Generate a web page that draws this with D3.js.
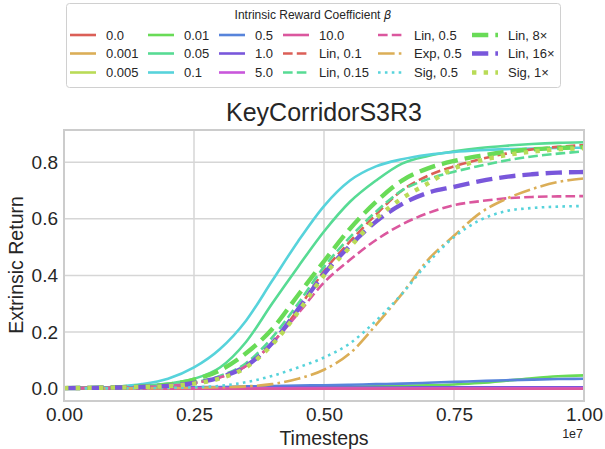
<!DOCTYPE html>
<html>
<head>
<meta charset="utf-8">
<script src="https://cdn.jsdelivr.net/npm/d3@7"></script>
<style>
  body { margin: 0; background: #fff; }
  text { font-family: "Liberation Sans", Arial, sans-serif; fill: #262626; }
</style>
</head>
<body>
<div id="container"></div>
<script>
// Timesteps (in units of 1e7), shared by every run
let steps = [0, 0.05, 0.1, 0.15, 0.2, 0.25, 0.3, 0.35, 0.4, 0.45, 0.5,
             0.55, 0.6, 0.65, 0.7, 0.75, 0.8, 0.85, 0.9, 0.95, 1.0];

// Extrinsic return per run
let b0_0   = [0.001,0.001,0.001,0.001,0.001,0.001,0.001,0.001,0.001,0.001,0.001,0.001,0.001,0.001,0.001,0.001,0.001,0.001,0.001,0.001,0.001];
let b0_001 = [0.001,0.001,0.001,0.001,0.001,0.001,0.001,0.001,0.001,0.001,0.001,0.001,0.001,0.001,0.001,0.001,0.001,0.001,0.001,0.001,0.001];
let b0_005 = [0.001,0.001,0.001,0.001,0.001,0.001,0.001,0.001,0.001,0.001,0.001,0.001,0.001,0.001,0.001,0.001,0.001,0.001,0.001,0.001,0.001];
let b0_01  = [0.002,0.002,0.002,0.003,0.003,0.003,0.004,0.004,0.005,0.005,0.006,0.007,0.008,0.010,0.012,0.015,0.020,0.028,0.037,0.044,0.047];
let b0_05  = [0.003,0.004,0.006,0.010,0.018,0.035,0.075,0.165,0.300,0.430,0.555,0.660,0.735,0.795,0.822,0.838,0.850,0.858,0.864,0.868,0.870];
let b0_1   = [0.002,0.003,0.007,0.016,0.035,0.075,0.140,0.240,0.380,0.520,0.645,0.735,0.785,0.810,0.826,0.836,0.842,0.846,0.848,0.850,0.851];
let b0_5   = [0.002,0.002,0.003,0.003,0.004,0.005,0.006,0.008,0.009,0.011,0.012,0.014,0.016,0.018,0.021,0.024,0.027,0.030,0.032,0.034,0.035];
let b1_0   = [0.002,0.002,0.002,0.002,0.003,0.003,0.003,0.003,0.003,0.004,0.004,0.004,0.004,0.004,0.005,0.005,0.005,0.005,0.005,0.005,0.005];
let b5_0   = [0.001,0.001,0.001,0.001,0.001,0.001,0.001,0.001,0.001,0.001,0.001,0.001,0.001,0.001,0.001,0.001,0.001,0.001,0.001,0.001,0.001];
let b10_0  = [0.000,0.000,0.000,0.000,0.000,0.000,0.000,0.000,0.000,0.000,0.000,0.000,0.000,0.000,0.000,0.000,0.000,0.000,0.000,0.000,0.000];
let lin0_1  = [0.002,0.003,0.004,0.006,0.010,0.020,0.040,0.080,0.160,0.280,0.415,0.520,0.615,0.700,0.752,0.785,0.810,0.830,0.845,0.854,0.860];
let lin0_15 = [0.002,0.003,0.004,0.006,0.011,0.022,0.045,0.090,0.180,0.300,0.430,0.535,0.625,0.700,0.740,0.766,0.787,0.806,0.820,0.830,0.838];
let lin0_5  = [0.002,0.003,0.004,0.006,0.010,0.020,0.040,0.080,0.160,0.265,0.375,0.455,0.525,0.580,0.620,0.648,0.662,0.672,0.677,0.679,0.680];
let exp0_5  = [0.001,0.001,0.001,0.001,0.002,0.003,0.005,0.008,0.016,0.035,0.067,0.125,0.225,0.335,0.455,0.540,0.620,0.670,0.705,0.730,0.742];
let sig0_5  = [0.001,0.001,0.001,0.002,0.003,0.005,0.010,0.023,0.045,0.075,0.110,0.160,0.240,0.335,0.445,0.535,0.595,0.627,0.638,0.643,0.645];
let lin8x   = [0.002,0.003,0.005,0.008,0.014,0.032,0.065,0.125,0.210,0.330,0.450,0.565,0.660,0.735,0.778,0.804,0.822,0.836,0.845,0.850,0.853];
let lin16x  = [0.002,0.003,0.004,0.006,0.010,0.020,0.040,0.080,0.160,0.280,0.405,0.505,0.590,0.652,0.692,0.713,0.733,0.748,0.757,0.763,0.765];
let sig1x   = [0.002,0.003,0.004,0.006,0.009,0.018,0.036,0.075,0.155,0.270,0.400,0.500,0.600,0.672,0.725,0.778,0.805,0.825,0.837,0.845,0.849];

// Legend labels, in drawing order
let labels = ["0.0", "0.001", "0.005", "0.01", "0.05", "0.1", "0.5", "1.0", "5.0", "10.0",
              "Lin, 0.1", "Lin, 0.15", "Lin, 0.5", "Exp, 0.5", "Sig, 0.5",
              "Lin, 8\u00d7", "Lin, 16\u00d7", "Sig, 1\u00d7"];
let values = [b0_0, b0_001, b0_005, b0_01, b0_05, b0_1, b0_5, b1_0, b5_0, b10_0,
              lin0_1, lin0_15, lin0_5, exp0_5, sig0_5, lin8x, lin16x, sig1x];

let xTicks = [0, 0.25e7, 0.5e7, 0.75e7, 1e7];
let yTicks = [0, 0.2, 0.4, 0.6, 0.8];

// seaborn hls palette, 10 hues
let pal = ["#db5f57", "#dbae57", "#b9db57", "#69db57", "#57db94",
           "#57d3db", "#5784db", "#7957db", "#c957db", "#db579e"];

// style for each run: colour, line width, dash
function styleFor(i) {
  let thin = 2.6, thick = 4.4;
  let dash = s => s.map(v => v * thin).join(",");
  let dashT = s => s.map(v => v * thick).join(",");
  if (i < 10) return { c: pal[i], w: thin, d: null };
  switch (labels[i]) {
    case "Lin, 0.1":  return { c: pal[0], w: thin, d: dash([3.7, 1.6]) };
    case "Lin, 0.15": return { c: pal[4], w: thin, d: dash([3.7, 1.6]) };
    case "Lin, 0.5":  return { c: pal[9], w: thin, d: dash([3.7, 1.6]) };
    case "Exp, 0.5":  return { c: pal[1], w: thin, d: dash([6.4, 1.6, 1, 1.6]) };
    case "Sig, 0.5":  return { c: pal[5], w: thin, d: dash([1, 1.65]) };
    case "Lin, 8\u00d7":  return { c: pal[3], w: thick, d: dashT([3.7, 1.6]) };
    case "Lin, 16\u00d7": return { c: pal[7], w: thick, d: dashT([3.7, 1.6]) };
    case "Sig, 1\u00d7":  return { c: pal[2], w: thick, d: dashT([1, 1.65]) };
  }
}

let w = 605, h = 449;
let pLeft = 64, pRight = 584, pTop = 130, pBottom = 401;

let svg = d3.select("#container").append("svg")
  .attr("width", w).attr("height", h);

let x = d3.scaleLinear().domain([0, 1e7]).range([pLeft, pRight]);
let y = d3.scaleLinear().domain([-0.0435, 0.9135]).range([pBottom, pTop]);

// grid
let grid = svg.append("g");
grid.selectAll(".gx").data(xTicks).enter().append("line")
  .attr("x1", d => x(d)).attr("x2", d => x(d))
  .attr("y1", pTop).attr("y2", pBottom)
  .attr("stroke", "#d6d6d6").attr("stroke-width", 1.5);
grid.selectAll(".gy").data(yTicks).enter().append("line")
  .attr("x1", pLeft).attr("x2", pRight)
  .attr("y1", d => y(d)).attr("y2", d => y(d))
  .attr("stroke", "#d6d6d6").attr("stroke-width", 1.5);

// tick labels via axes (no tick marks, like whitegrid)
let xAxis = svg.append("g").attr("transform", `translate(0,${pBottom})`)
  .call(d3.axisBottom(x).tickValues(xTicks).tickSize(0).tickPadding(7)
        .tickFormat(d => (d / 1e7).toFixed(2)));
let yAxis = svg.append("g").attr("transform", `translate(${pLeft},0)`)
  .call(d3.axisLeft(y).tickValues(yTicks).tickSize(0).tickPadding(6)
        .tickFormat(d3.format(".1f")));
[xAxis, yAxis].forEach(a => {
  a.select(".domain").remove();
  a.selectAll("text").attr("font-size", 19).attr("fill", "#262626")
    .style("font-family", "Liberation Sans, Arial, sans-serif");
});

svg.append("defs").append("clipPath").attr("id", "plotclip")
  .append("rect").attr("x", pLeft).attr("y", pTop)
  .attr("width", pRight - pLeft).attr("height", pBottom - pTop);

let line = d3.line()
  .x((d, i) => x(steps[i] * 1e7))
  .y(d => y(d))
  .curve(d3.curveMonotoneX);

let lineG = svg.append("g").attr("clip-path", "url(#plotclip)");
values.forEach((vals, i) => {
  let s = styleFor(i);
  lineG.append("path")
    .attr("d", line(vals))
    .attr("fill", "none")
    .attr("stroke", s.c)
    .attr("stroke-width", s.w)
    .attr("stroke-dasharray", s.d)
    .attr("stroke-linejoin", "round");
});

// frame
svg.append("rect")
  .attr("x", pLeft).attr("y", pTop)
  .attr("width", pRight - pLeft).attr("height", pBottom - pTop)
  .attr("fill", "none").attr("stroke", "#cccccc").attr("stroke-width", 2);

// texts
svg.append("text").attr("x", (pLeft + pRight) / 2).attr("y", 121)
  .attr("text-anchor", "middle").attr("font-size", 25).text("KeyCorridorS3R3");
svg.append("text").attr("x", (pLeft + pRight) / 2).attr("y", 445)
  .attr("text-anchor", "middle").attr("font-size", 19.5).text("Timesteps");
svg.append("text").attr("transform", "translate(23,265) rotate(-90)")
  .attr("text-anchor", "middle").attr("font-size", 19.5).text("Extrinsic Return");
svg.append("text").attr("x", 583).attr("y", 438)
  .attr("text-anchor", "end").attr("font-size", 12.5).text("1e7");

// legend
let legend = svg.append("g");
legend.append("rect")
  .attr("x", 66.5).attr("y", 3.5).attr("width", 494).attr("height", 84).attr("rx", 3)
  .attr("fill", "#fff").attr("fill-opacity", 0.8)
  .attr("stroke", "#d0d0d0").attr("stroke-width", 1);
let title = legend.append("text").attr("x", 313).attr("y", 18.5)
  .attr("text-anchor", "middle").attr("font-size", 12);
title.append("tspan").text("Intrinsic Reward Coefficient ");
title.append("tspan").attr("font-style", "italic")
  .style("font-family", "DejaVu Sans").text("\u03b2");

let colX = [70, 148, 219, 283, 378, 472];
let rowY = [35, 53.5, 72.5];
labels.forEach((lab, i) => {
  let s = styleFor(i);
  let cx = colX[Math.floor(i / 3)], cy = rowY[i % 3];
  legend.append("line")
    .attr("x1", cx).attr("x2", cx + 26).attr("y1", cy).attr("y2", cy)
    .attr("stroke", s.c).attr("stroke-width", s.w)
    .attr("stroke-dasharray", s.d);
  legend.append("text").attr("x", cx + 36).attr("y", cy + 4.6)
    .attr("font-size", 13).text(lab);
});
</script>
</body>
</html>
